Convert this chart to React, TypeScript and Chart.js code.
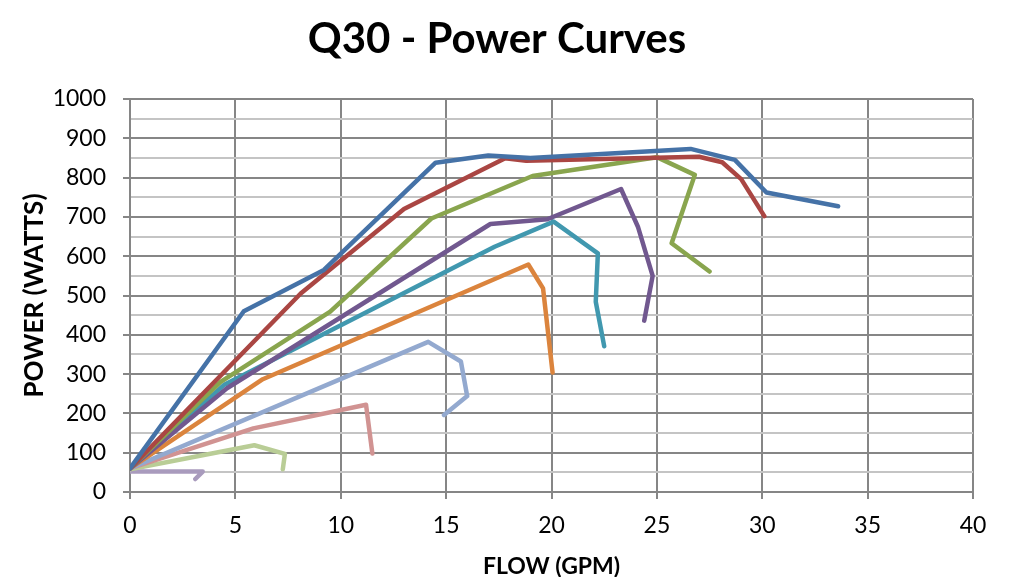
import React, { useEffect, useRef } from "react";
import { Chart, registerables } from "chart.js";

Chart.register(...registerables);

const TITLE = "Q30 - Power Curves";
const X_TITLE = "FLOW (GPM)";
const Y_TITLE = "POWER (WATTS)";

const blue = [[0, 60], [5.4, 460], [9.2, 565], [14.5, 838], [17, 856], [19, 850], [26.6, 873], [28.7, 845], [30.2, 762], [33.6, 727]];
const red = [[0, 60], [8.1, 505], [13, 720], [17.8, 849], [18.8, 843], [27, 853], [28.1, 839], [29, 796], [30.1, 702]];
const green = [[0, 60], [4.3, 280], [9.5, 459], [14.3, 696], [19.1, 804], [25, 852], [26.8, 807], [25.7, 633], [27.5, 561]];
const purple = [[0, 60], [4.6, 264], [17.1, 682], [19.8, 694], [23.3, 771], [24.1, 675], [24.8, 550], [24.4, 436]];
const teal = [[0, 60], [4.45, 272], [17.3, 624], [20.1, 688], [22.2, 607], [22.1, 484], [22.5, 371]];
const orange = [[0, 60], [6.3, 287], [18.9, 579], [19.6, 518], [20.05, 304]];
const lightBlue = [[0, 60], [14.15, 382], [15.7, 332], [16, 244], [14.9, 196]];
const pink = [[0, 60], [5.85, 162], [11.2, 222], [11.5, 98]];
const lightGreen = [[0, 58], [5.9, 119], [7.35, 97], [7.25, 58]];
const lightPurple = [[0, 52], [3.45, 52], [3.1, 33]];

const SERIES = [
  { data: blue, color: "#4572A7" },
  { data: red, color: "#AA4643" },
  { data: green, color: "#89A54E" },
  { data: purple, color: "#71588F" },
  { data: teal, color: "#4198AF" },
  { data: orange, color: "#DB843D" },
  { data: lightBlue, color: "#93A9CF" },
  { data: pink, color: "#D19392" },
  { data: lightGreen, color: "#B9CD96" },
  { data: lightPurple, color: "#A99BBD" },
];

const FONT = "Lato, 'Open Sans', sans-serif";
const MAJOR = "#868686";
const MINOR = "#c4c4c4";

export default function App() {
  const ref = useRef<HTMLCanvasElement | null>(null);
  useEffect(() => {
    document.body.style.margin = "0";
    const ctx = ref.current!;
    const chart = new Chart(ctx, {
      type: "scatter",
      data: {
        datasets: SERIES.map((s) => ({
          data: s.data.map(([x, y]) => ({ x, y })),
          showLine: true,
          borderColor: s.color,
          backgroundColor: s.color,
          borderWidth: 4.5,
          pointRadius: 0,
          tension: 0,
          borderCapStyle: "round" as const,
          borderJoinStyle: "round" as const,
        })),
      },
      options: {
        animation: false,
        responsive: false,
        maintainAspectRatio: false,
        layout: { padding: { left: 21, right: 40, top: 0, bottom: 0 } },
        plugins: {
          legend: { display: false },
          tooltip: { enabled: false },
          title: {
            display: true,
            text: TITLE,
            color: "#000",
            font: { family: FONT, size: 42, weight: "bold" },
            padding: { top: 14, bottom: 34.6 },
          },
        },
        scales: {
          x: {
            type: "linear",
            min: 0,
            max: 40,
            ticks: { stepSize: 5, color: "#000", font: { family: FONT, size: 23 }, padding: 13 },
            grid: { color: MAJOR, lineWidth: 2, tickLength: 7, tickColor: MAJOR },
            border: { color: MAJOR, width: 2 },
            title: {
              display: true,
              text: X_TITLE,
              color: "#000",
              font: { family: FONT, size: 23, weight: "bold", lineHeight: 1 },
              padding: { top: 0, bottom: -1 },
            },
            afterFit: (scale: any) => {
              scale.height = 85;
            },
          },
          y: {
            type: "linear",
            min: 0,
            max: 1000,
            ticks: {
              stepSize: 50,
              autoSkip: false,
              color: "#000",
              font: { family: FONT, size: 23 },
              padding: 17,
              callback: (v: any) => (Number(v) % 100 === 0 ? String(v) : ""),
            },
            grid: {
              color: (c: any) => (c.tick && c.tick.value % 100 === 0 ? MAJOR : MINOR),
              tickColor: (c: any) => (c.tick && c.tick.value % 100 === 0 ? MAJOR : "rgba(0,0,0,0)"),
              lineWidth: 2,
              tickLength: 7,
            },
            border: { color: MAJOR, width: 2 },
            title: {
              display: true,
              text: Y_TITLE,
              color: "#000",
              font: { family: FONT, size: 26, weight: "bold", lineHeight: 1 },
              padding: { top: 1, bottom: 0 },
            },
            afterFit: (scale: any) => {
              scale.width = 109;
            },
          },
        },
      },
    });
    return () => chart.destroy();
  }, []);
  return (
    <div style={{ position: "fixed", left: 0, top: 0, width: 1013, height: 577, background: "#fff" }}>
      <canvas ref={ref} width={1013} height={577} style={{ width: 1013, height: 577 }} />
    </div>
  );
}
